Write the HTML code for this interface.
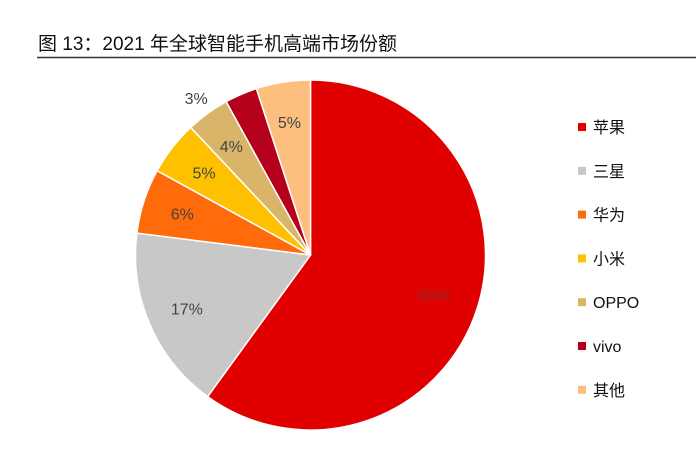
<!DOCTYPE html>
<html><head><meta charset="utf-8"><style>
body{margin:0;background:#fff;width:696px;height:466px;overflow:hidden;font-family:"Liberation Sans","Noto Sans CJK SC",sans-serif;}
</style></head><body>
<svg width="696" height="466" xmlns="http://www.w3.org/2000/svg">
<text x="38" y="50" font-size="19" fill="#111" font-family="Liberation Sans, Noto Sans CJK SC, sans-serif">图 13：2021 年全球智能手机高端市场份额</text>
<line x1="37" y1="57.5" x2="696" y2="57.5" stroke="#333" stroke-width="1.5"/>
<g id="pie"></g>
<g id="legend"></g>
</svg>
<script>
const categories = ["苹果","三星","华为","小米","OPPO","vivo","其他"];
const values = [60,17,6,5,4,3,5];
const labels = ["60%","17%","6%","5%","4%","3%","5%"];
const colors = ["#E00000","#C8C8C8","#FF6A0A","#FFC000","#D9B56A","#B5001B","#FCBF7E"];
const NS="http://www.w3.org/2000/svg";
const cx=310.5, cy=255, r=175;
const total=values.reduce((a,b)=>a+b,0);
const pie=document.getElementById('pie'), legend=document.getElementById('legend');
function pt(a,rad){return [cx+rad*Math.sin(a), cy-rad*Math.cos(a)];}
let acc=0;
values.forEach((v,i)=>{
  const a0=acc/total*2*Math.PI; acc+=v; const a1=acc/total*2*Math.PI;
  const p0=pt(a0,r), p1=pt(a1,r);
  const path=document.createElementNS(NS,'path');
  path.setAttribute('d',`M${cx},${cy}L${p0[0]},${p0[1]}A${r},${r} 0 ${a1-a0>Math.PI?1:0} 1 ${p1[0]},${p1[1]}Z`);
  path.setAttribute('fill',colors[i]); path.setAttribute('stroke','#fff'); path.setAttribute('stroke-width','1.5');
  
  
  pie.appendChild(path);
  const am=(a0+a1)/2;
  const small = v/total < 0.035;
  let lp = small ? pt(am, r*1.04) : pt(am, v/total>0.3 ? r*0.74 : r*0.77);
  if(small){lp[0]-=42; lp[1]+=10;}
  const t=document.createElementNS(NS,'text');
  t.setAttribute('x',lp[0]); t.setAttribute('y',lp[1]+6);
  t.setAttribute('text-anchor','middle'); t.setAttribute('font-size','16');
  t.setAttribute('fill', i===0 ? '#8a2a2a' : '#444');
  t.textContent=labels[i];
  
  
  pie.appendChild(t);
  const ly=127+i*43.8;
  const sq=document.createElementNS(NS,'rect');
  sq.setAttribute('x',578); sq.setAttribute('y',ly-4); sq.setAttribute('width',8); sq.setAttribute('height',8);
  sq.setAttribute('fill',colors[i]);
  
  
  legend.appendChild(sq);
  const lt=document.createElementNS(NS,'text');
  lt.setAttribute('x',593); lt.setAttribute('y',ly+6); lt.setAttribute('font-size','16'); lt.setAttribute('fill','#111');
  lt.textContent=categories[i];
  
  
  legend.appendChild(lt);
});
</script>
</body></html>
